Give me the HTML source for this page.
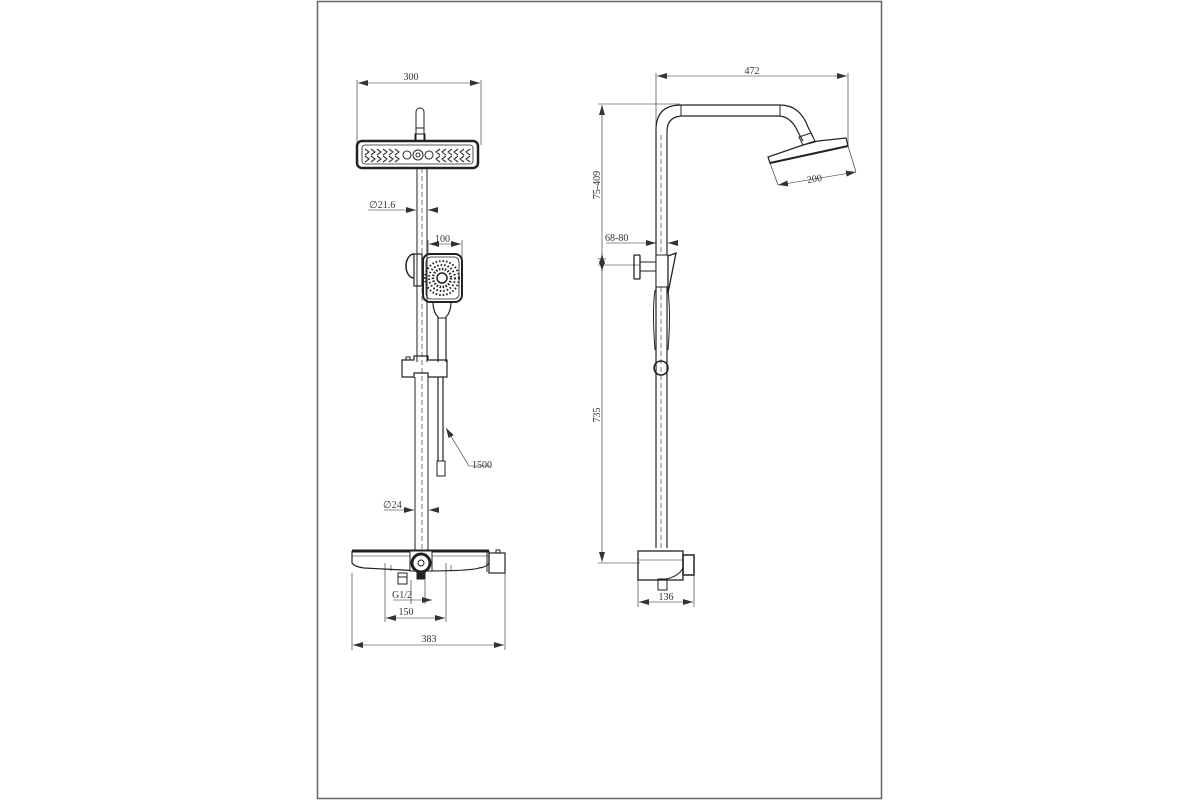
<!DOCTYPE html>
<html><head><meta charset="utf-8"><style>
html,body{margin:0;padding:0;background:#fff;}
svg{display:block;}
text{font-family:"Liberation Serif",serif;font-size:10px;fill:#333;}
</style></head><body>
<svg width="1200" height="800" viewBox="0 0 1200 800" xmlns="http://www.w3.org/2000/svg">
<defs>
<marker id="a" viewBox="0 0 10 6" refX="10" refY="3" markerWidth="10" markerHeight="6" orient="auto-start-reverse" markerUnits="userSpaceOnUse"><path d="M0,0L10,3L0,6z" fill="#333"/></marker>
</defs>
<rect x="317.5" y="1.5" width="564" height="797" fill="none" stroke="#666" stroke-width="1.5"/>

<g stroke="#222" fill="none" stroke-width="1">
<!-- LEFT VIEW -->
<line x1="357" y1="80" x2="357" y2="145" stroke-width="0.6"/>
<line x1="481" y1="80" x2="481" y2="145" stroke-width="0.6"/>
<line x1="358" y1="83" x2="480" y2="83" stroke-width="0.6" marker-start="url(#a)" marker-end="url(#a)"/>
<path d="M416,140 V112 a4,4 0 0 1 8,0 V140"/>
<line x1="416" y1="128" x2="424" y2="128"/>
<rect x="415" y="134" width="10" height="7"/>
<rect x="357" y="141" width="121" height="27" rx="5" stroke-width="2.5"/>
<rect x="362" y="145" width="111" height="19" rx="3" stroke-width="0.8"/>
<g stroke-width="1.1" stroke="#333">
<path d="M365,149 l4,3 -4,3 M371,149 l4,3 -4,3 M377,149 l4,3 -4,3 M383,149 l4,3 -4,3 M389,149 l4,3 -4,3 M395,149 l4,3 -4,3
M365,156 l4,3 -4,3 M371,156 l4,3 -4,3 M377,156 l4,3 -4,3 M383,156 l4,3 -4,3 M389,156 l4,3 -4,3 M395,156 l4,3 -4,3
M470,149 l-4,3 4,3 M464,149 l-4,3 4,3 M458,149 l-4,3 4,3 M452,149 l-4,3 4,3 M446,149 l-4,3 4,3 M440,149 l-4,3 4,3
M470,156 l-4,3 4,3 M464,156 l-4,3 4,3 M458,156 l-4,3 4,3 M452,156 l-4,3 4,3 M446,156 l-4,3 4,3 M440,156 l-4,3 4,3"/>
<circle cx="418" cy="155" r="5"/><circle cx="418" cy="155" r="2"/><circle cx="407" cy="155" r="4"/><circle cx="429" cy="155" r="4"/>
</g>
<line x1="417" y1="168" x2="417" y2="362"/>
<line x1="427" y1="168" x2="427" y2="362"/>
<line x1="422" y1="168" x2="422" y2="550" stroke-dasharray="5,3" stroke-width="0.6"/>
<line x1="368" y1="210" x2="416" y2="210" stroke-width="0.6" marker-end="url(#a)"/>
<line x1="438" y1="210" x2="428" y2="210" stroke-width="0.6" marker-end="url(#a)"/>
<line x1="428" y1="240" x2="428" y2="255" stroke-width="0.6"/>
<line x1="462" y1="240" x2="462" y2="260" stroke-width="0.6"/>
<line x1="429" y1="244" x2="461" y2="244" stroke-width="0.6" marker-start="url(#a)" marker-end="url(#a)"/>
<path d="M414,254 a8,12 0 0 0 0,24" stroke-width="1.5"/>
<rect x="414" y="254" width="8" height="32" stroke-width="1.2"/>
<rect x="423" y="254" width="39" height="48" rx="7" stroke-width="2"/>
<rect x="426" y="257" width="33" height="42" rx="5" stroke-width="0.8"/>
<circle cx="442" cy="278" r="9" stroke-width="2.5" stroke-dasharray="1.5,1.5"/>
<circle cx="442" cy="278" r="5" stroke-width="1.5"/>
<circle cx="442" cy="278" r="13" stroke-width="2" stroke-dasharray="1.5,2"/>
<circle cx="442" cy="278" r="17" stroke-width="2" stroke-dasharray="1.5,2"/>
<path d="M433,302 q0,10 5,15 V362 M451,302 q0,10 -5,15 V362" stroke-width="1.2"/>
<line x1="438" y1="318" x2="446" y2="318"/>
<path d="M402,360 h12 v-4 h14 v4 h19 v17 h-19 v-4 h-14 v4 h-12z" stroke-width="1.2"/>
<path d="M406,360 v-3 h4 v3"/>
<line x1="415" y1="377" x2="415" y2="550"/>
<line x1="428" y1="377" x2="428" y2="550"/>
<line x1="438" y1="377" x2="438" y2="461" stroke-width="1.2"/>
<line x1="443" y1="377" x2="443" y2="461" stroke-width="1.2"/>
<rect x="437" y="461" width="8" height="15"/>
<line x1="446" y1="428" x2="469" y2="466" stroke-width="0.6" marker-start="url(#a)"/>
<line x1="469" y1="466" x2="491" y2="466" stroke-width="0.6"/>
<line x1="384" y1="510" x2="414" y2="510" stroke-width="0.6" marker-end="url(#a)"/>
<line x1="438" y1="510" x2="429" y2="510" stroke-width="0.6" marker-end="url(#a)"/>
<line x1="352" y1="551" x2="489" y2="551" stroke-width="3"/>
<path d="M352,551 V563 q3,4 12,5 q55,3 57,3 q50,0 58,-3 q8,-1 10,-5 V551" stroke-width="1.2"/>
<line x1="352" y1="556" x2="489" y2="556" stroke-width="0.6"/>
<line x1="391" y1="565" x2="391" y2="571" stroke-width="0.6"/>
<line x1="451" y1="565" x2="451" y2="571" stroke-width="0.6"/>
<line x1="487" y1="551" x2="487" y2="572"/>
<rect x="489" y="553" width="16" height="20" stroke-width="1.2"/>
<rect x="496" y="550" width="4" height="3"/>
<rect x="410" y="551" width="22" height="20" fill="#fff"/>
<circle cx="421" cy="563" r="9" stroke-width="3"/>
<circle cx="421" cy="563" r="3"/>
<rect x="417" y="572" width="8" height="7" fill="#222"/>
<rect x="398" y="573" width="9" height="11"/>
<line x1="398" y1="577" x2="407" y2="577"/>
<line x1="352" y1="573" x2="352" y2="650" stroke-width="0.6"/>
<line x1="505" y1="573" x2="505" y2="650" stroke-width="0.6"/>
<line x1="385" y1="563" x2="385" y2="622" stroke-width="0.6"/>
<line x1="446" y1="563" x2="446" y2="622" stroke-width="0.6"/>
<line x1="411" y1="580" x2="411" y2="604" stroke-width="0.6"/>
<line x1="425" y1="580" x2="425" y2="604" stroke-width="0.6"/>
<line x1="393" y1="600" x2="411" y2="600" stroke-width="0.6"/>
<line x1="411" y1="600" x2="432" y2="600" stroke-width="0.6" marker-end="url(#a)"/>
<line x1="386" y1="618" x2="445" y2="618" stroke-width="0.6" marker-start="url(#a)" marker-end="url(#a)"/>
<line x1="353" y1="645" x2="504" y2="645" stroke-width="0.6" marker-start="url(#a)" marker-end="url(#a)"/>

<!-- RIGHT VIEW -->
<line x1="656" y1="73" x2="656" y2="125" stroke-width="0.6"/>
<line x1="848" y1="73" x2="848" y2="145" stroke-width="0.6"/>
<line x1="657" y1="76" x2="847" y2="76" stroke-width="0.6" marker-start="url(#a)" marker-end="url(#a)"/>
<line x1="598" y1="104" x2="680" y2="104" stroke-width="0.6"/>
<line x1="602" y1="105" x2="602" y2="562" stroke-width="0.6" marker-start="url(#a)" marker-end="url(#a)"/>
<line x1="598" y1="259" x2="606" y2="259" stroke-width="0.6"/>
<line x1="602" y1="259" x2="602" y2="254" stroke-width="0.6" marker-end="url(#a)"/>
<line x1="602" y1="266" x2="602" y2="271" stroke-width="0.6" marker-end="url(#a)"/>
<line x1="598" y1="265" x2="640" y2="265" stroke-width="0.6"/>
<line x1="598" y1="563" x2="640" y2="563" stroke-width="0.6"/>
<path d="M656,548 V130 q0,-25 25,-25 H780 q20,0 28,22 l5,10" stroke-width="1.2"/>
<path d="M667,548 V132 q0,-16 16,-16 H778 q13,0 20,16 l5,9" stroke-width="1.2"/>
<line x1="681" y1="105" x2="681" y2="116"/>
<line x1="780" y1="105" x2="780" y2="116"/>
<line x1="661" y1="135" x2="661" y2="548" stroke-dasharray="5,3" stroke-width="0.6"/>
<path d="M799,137 l12,-4 4,8 -12,4z"/>
<path d="M803,145 l15,-4 l28,-3 l2,8 l-78,17 l-2,-6z" stroke-width="1.2"/>
<line x1="770" y1="163" x2="848" y2="146" stroke-width="2"/>
<line x1="770" y1="163" x2="778" y2="185" stroke-width="0.6"/>
<line x1="848" y1="146" x2="856" y2="172" stroke-width="0.6"/>
<line x1="778" y1="185" x2="856" y2="172" stroke-width="0.6" marker-start="url(#a)" marker-end="url(#a)"/>
<line x1="606" y1="243" x2="632" y2="243" stroke-width="0.6"/>
<line x1="632" y1="243" x2="656" y2="243" stroke-width="0.6" marker-end="url(#a)"/>
<line x1="672" y1="243" x2="668" y2="243" stroke-width="0.6" marker-end="url(#a)"/>
<rect x="634" y="255" width="6" height="24" rx="1" stroke-width="1.3"/>
<rect x="640" y="262" width="16" height="9"/>
<rect x="656" y="255" width="12" height="32" fill="#fff"/>
<path d="M668,256 l8,-3 -8,40z" stroke-width="1.3"/>
<path d="M655,290 q-3,20 0,60 M668,290 q3,25 0,60"/>
<circle cx="661" cy="368" r="7" stroke-width="1.5"/>
<rect x="638" y="551" width="45" height="29" stroke-width="1.3"/>
<line x1="638" y1="560" x2="683" y2="560" stroke-width="0.6"/>
<path d="M660,580 q18,-2 23,-12"/>
<rect x="683" y="555" width="11" height="20" stroke-width="1.5"/>
<rect x="658" y="579" width="9" height="11"/>
<line x1="638" y1="580" x2="638" y2="607" stroke-width="0.6"/>
<line x1="694" y1="575" x2="694" y2="607" stroke-width="0.6"/>
<line x1="639" y1="602" x2="693" y2="602" stroke-width="0.6" marker-start="url(#a)" marker-end="url(#a)"/>
</g>

<text x="411" y="80" text-anchor="middle">300</text>
<text x="369" y="208">∅21.6</text>
<text x="435" y="242">100</text>
<text x="472" y="468">1500</text>
<text x="383" y="508">∅24</text>
<text x="392" y="598">G1/2</text>
<text x="406" y="615" text-anchor="middle">150</text>
<text x="429" y="642" text-anchor="middle">383</text>
<text x="752" y="74" text-anchor="middle">472</text>
<text x="815" y="182" transform="rotate(-10 815 182)" text-anchor="middle">200</text>
<text x="605" y="241">68-80</text>
<text x="600" y="185" transform="rotate(-90 600 185)" text-anchor="middle">75-409</text>
<text x="600" y="415" transform="rotate(-90 600 415)" text-anchor="middle">735</text>
<text x="666" y="600" text-anchor="middle">136</text>
</svg>
</body></html>
